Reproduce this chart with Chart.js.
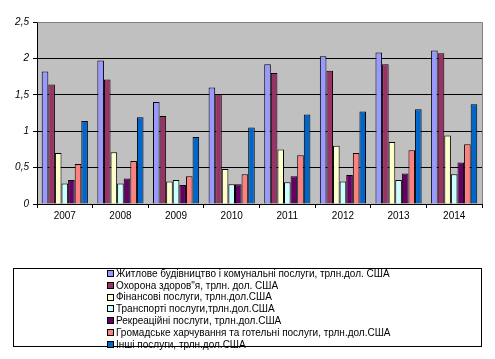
<!DOCTYPE html>
<html><head><meta charset="utf-8">
<script src="https://cdn.jsdelivr.net/npm/chart.js@4"></script>
<style>html,body{margin:0;padding:0;background:#fff}#wrap{width:495px;height:359px}</style>
</head><body><div id="wrap"><canvas id="c" width="495" height="359"></canvas></div>
<script>
const categories = ["2007","2008","2009","2010","2011","2012","2013","2014"];
const seriesLabels = [
  "Житлове будівництво і комунальні послуги, трлн.дол. США",
  "Охорона здоров\"я, трлн. дол. США",
  "Фінансові послуги, трлн.дол.США",
  "Транспорті послуги,трлн.дол.США",
  "Рекреаційні послуги, трлн.дол.США",
  "Громадське харчування та готельні послуги, трлн.дол.США",
  "Інші послуги, трлн.дол.США"
];
const housing    = [1.82, 1.97, 1.40, 1.60, 1.92, 2.03, 2.08, 2.11];
const health     = [1.64, 1.71, 1.21, 1.51, 1.80, 1.83, 1.92, 2.07];
const finance    = [0.70, 0.71, 0.31, 0.48, 0.75, 0.80, 0.85, 0.94];
const transport  = [0.28, 0.28, 0.33, 0.27, 0.30, 0.31, 0.33, 0.41];
const recreation = [0.33, 0.35, 0.26, 0.27, 0.38, 0.40, 0.42, 0.57];
const catering   = [0.55, 0.59, 0.38, 0.41, 0.67, 0.70, 0.74, 0.82];
const other      = [1.14, 1.19, 0.92, 1.05, 1.23, 1.27, 1.30, 1.37];
const yTicks = [0, 0.5, 1, 1.5, 2, 2.5];
const colors = ["#9999FF","#993366","#FFFFCC","#CCFFFF","#660066","#FF8080","#0066CC"];

const seriesValues = [housing, health, finance, transport, recreation, catering, other];

const FONT = "'Liberation Sans', Arial, sans-serif";

const bgPlugin = {
  id: 'bg',
  beforeDraw(chart) {
    const {ctx, chartArea: a} = chart;
    ctx.save();
    ctx.fillStyle = '#C0C0C0';
    ctx.fillRect(a.left, a.top, a.right - a.left, a.bottom - a.top);
    ctx.restore();
  },
  afterDraw(chart) {
    const {ctx, chartArea: a} = chart;
    ctx.save();
    ctx.strokeStyle = '#808080';
    ctx.lineWidth = 1;
    ctx.beginPath();
    ctx.moveTo(Math.round(a.left) + 0.5, Math.round(a.top) + 0.5);
    ctx.lineTo(Math.round(a.right) + 0.5, Math.round(a.top) + 0.5);
    ctx.lineTo(Math.round(a.right) + 0.5, Math.round(a.bottom));
    ctx.stroke();
    // legend box
    ctx.strokeStyle = '#000';
    ctx.strokeRect(13.5, 268.5, 468, 78);
    ctx.font = "10px " + FONT;
    ctx.textBaseline = 'middle';
    ctx.textAlign = 'left';
    chart.data.datasets.forEach((ds, i) => {
      const y = 274 + i * 11.8;
      ctx.fillStyle = ds.backgroundColor;
      ctx.fillRect(107, Math.round(y) - 3, 6, 6);
      ctx.strokeStyle = '#000';
      ctx.strokeRect(107.5, Math.round(y) - 3.5, 6, 6);
      ctx.fillStyle = '#000';
      ctx.fillText(ds.label, 116, y);
    });
    ctx.restore();
  }
};

new Chart(document.getElementById('c'), {
  type: 'bar',
  data: {
    labels: categories,
    datasets: seriesLabels.map((l, i) => ({
      label: l,
      data: seriesValues[i],
      backgroundColor: colors[i],
      borderColor: '#000',
      borderWidth: 1,
      categoryPercentage: 0.83,
      barPercentage: 1
    }))
  },
  options: {
    responsive: false,
    animation: false,
    layout: {padding: {left: 0, right: 13, top: 22, bottom: 135}},
    plugins: {legend: {display: false}, tooltip: {enabled: false}},
    scales: {
      x: {
        offset: true,
        afterFit(s) { s.height = 20; },
        grid: {offset: true, drawOnChartArea: false, drawTicks: true, tickLength: 4, color: '#000'},
        border: {display: true, color: '#000'},
        ticks: {color: '#000', font: {family: FONT, size: 10}, padding: 2}
      },
      y: {
        min: 0, max: 2.5,
        afterFit(s) { s.width = 37; },
        afterBuildTicks(s) { s.ticks = yTicks.map(v => ({value: v})); },
        grid: {color: '#000', drawTicks: true, tickLength: 4},
        border: {display: true, color: '#000'},
        ticks: {
          color: '#000', padding: 4,
          font: {family: FONT, size: 10, style: 'italic'},
          callback: v => String(v).replace('.', ',')
        }
      }
    }
  },
  plugins: [bgPlugin]
});
</script></body></html>
